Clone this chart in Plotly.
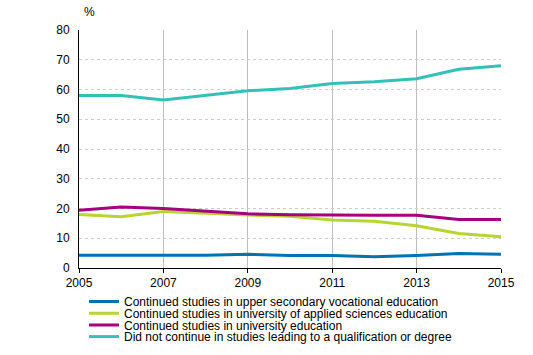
import plotly.graph_objects as go

years = list(range(2005, 2016))
vocational = [4.3, 4.3, 4.3, 4.3, 4.6, 4.2, 4.2, 3.8, 4.2, 4.9, 4.6]
applied = [18.0, 17.2, 19.0, 18.3, 17.8, 17.4, 16.1, 15.7, 14.2, 11.6, 10.5]
university = [19.4, 20.5, 20.0, 19.0, 18.2, 17.9, 17.7, 17.7, 17.7, 16.3, 16.3]
not_continued = [58.0, 58.0, 56.5, 58.1, 59.6, 60.3, 62.0, 62.6, 63.6, 66.8, 68.0]

names = [
    "Continued studies in upper secondary vocational education",
    "Continued studies in university of applied sciences education",
    "Continued studies in university education",
    "Did not continue in studies leading to a qualification or degree",
]
colors = ["#0073b0", "#b9d431", "#a6007e", "#33c1b7"]
series = [vocational, applied, university, not_continued]

# plot area geometry (pixels) for legend placement
W, H = 533, 355
L, R, T, B = 79, 32, 30, 87
plot_h = H - T - B
plot_w = W - L - R
row_centers = [301.5, 313.2, 324.9, 336.6]
legend_left = 84

fig = go.Figure()
layout_legends = {}
for i, (n, c, s) in enumerate(zip(names, colors, series)):
    key = "legend" if i == 0 else f"legend{i+1}"
    fig.add_trace(go.Scatter(x=years, y=s, name=n, mode="lines",
                             line=dict(color=c, width=3), legend=key))
    layout_legends[key] = dict(
        x=(legend_left - L) / plot_w, y=(H - B - row_centers[i]) / plot_h,
        xanchor="left", yanchor="middle", font=dict(size=12),
        bgcolor="rgba(0,0,0,0)", borderwidth=0, itemwidth=30,
    )

fig.update_layout(
    width=W, height=H,
    margin=dict(l=L, r=R, t=T, b=B, autoexpand=False),
    paper_bgcolor="white", plot_bgcolor="white",
    font=dict(family="Liberation Sans, Arial", size=12, color="#000"),
    showlegend=True,
    annotations=[dict(text="%", x=0, y=1, xref="paper", yref="paper",
                      xanchor="left", yanchor="bottom", xshift=3, yshift=9,
                      showarrow=False, font=dict(size=12))],
    **layout_legends,
)
fig.update_xaxes(range=[2005, 2015], tickvals=[2005, 2007, 2009, 2011, 2013, 2015],
                 showgrid=True, gridcolor="#bdbdbd", gridwidth=1,
                 showline=True, linecolor="#000", linewidth=1,
                 ticks="outside", ticklen=4, tickcolor="#000", zeroline=False)
fig.update_yaxes(range=[0, 80], dtick=10, showgrid=True, gridcolor="#cccccc",
                 griddash="dot", showline=True, linecolor="#000", linewidth=1,
                 zeroline=False, ticks="", ticklabelstandoff=6)

fig.write_html("out.html", config={"displayModeBar": False},
               post_script="document.body.style.margin='0';")
